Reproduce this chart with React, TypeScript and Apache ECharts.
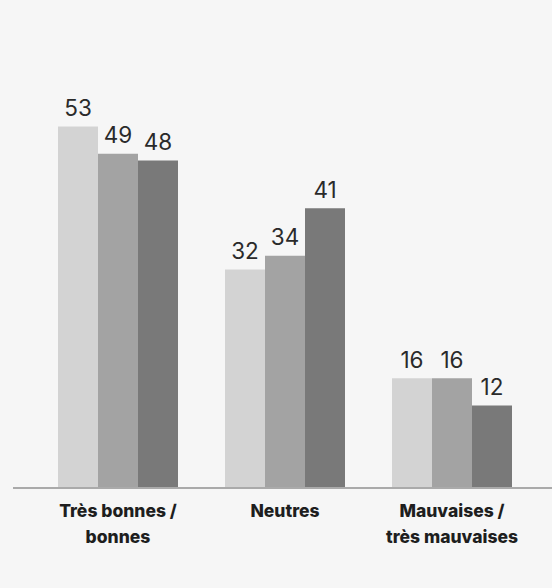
import React, { useEffect, useRef } from "react";
import * as echarts from "echarts";

const categories = ["Très bonnes /\nbonnes", "Neutres", "Mauvaises /\ntrès mauvaises"];
const seriesA = [53, 32, 16];
const seriesB = [49, 34, 16];
const seriesC = [48, 41, 12];
const colors = ["#d3d3d3", "#a3a3a3", "#797979"];

export default function App() {
  const ref = useRef<HTMLDivElement>(null);
  useEffect(() => {
    document.body.style.margin = "0";
    const chart = echarts.init(ref.current!, null, { renderer: "svg" });
    const mk = (data: number[], i: number) => ({
      type: "bar",
      data,
      barWidth: 40,
      barGap: "0%",
      itemStyle: { color: colors[i] },
      label: {
        show: true,
        position: "top",
        distance: 8,
        fontFamily: "Inter",
        fontSize: 22.5,
        lineHeight: 22,
        color: "#2a2a2a",
      },
    });
    chart.setOption({
      animation: false,
      backgroundColor: "#f6f6f6",
      grid: { left: 34.5, right: 16.5, top: 79, bottom: 101 },
      xAxis: {
        type: "category",
        data: categories,
        axisLine: { show: false },
        axisTick: { show: false },
        axisLabel: {
          interval: 0,
          hideOverlap: false,
          margin: 10,
          fontFamily: "Inter",
          fontWeight: 800,
          fontSize: 17.5,
          lineHeight: 26,
          color: "#1e1e1e",
        },
      },
      yAxis: {
        type: "value",
        min: 0,
        max: 60,
        interval: 10,
        show: false,
        splitLine: { show: false },
      },
      graphic: [
        {
          type: "line",
          shape: { x1: 13, y1: 488, x2: 552, y2: 488 },
          style: { stroke: "#aaaaaa", lineWidth: 2 },
        },
      ],
      series: [mk(seriesA, 0), mk(seriesB, 1), mk(seriesC, 2)],
    });
    return () => chart.dispose();
  }, []);
  return <div ref={ref} style={{ width: 552, height: 588 }} />;
}
